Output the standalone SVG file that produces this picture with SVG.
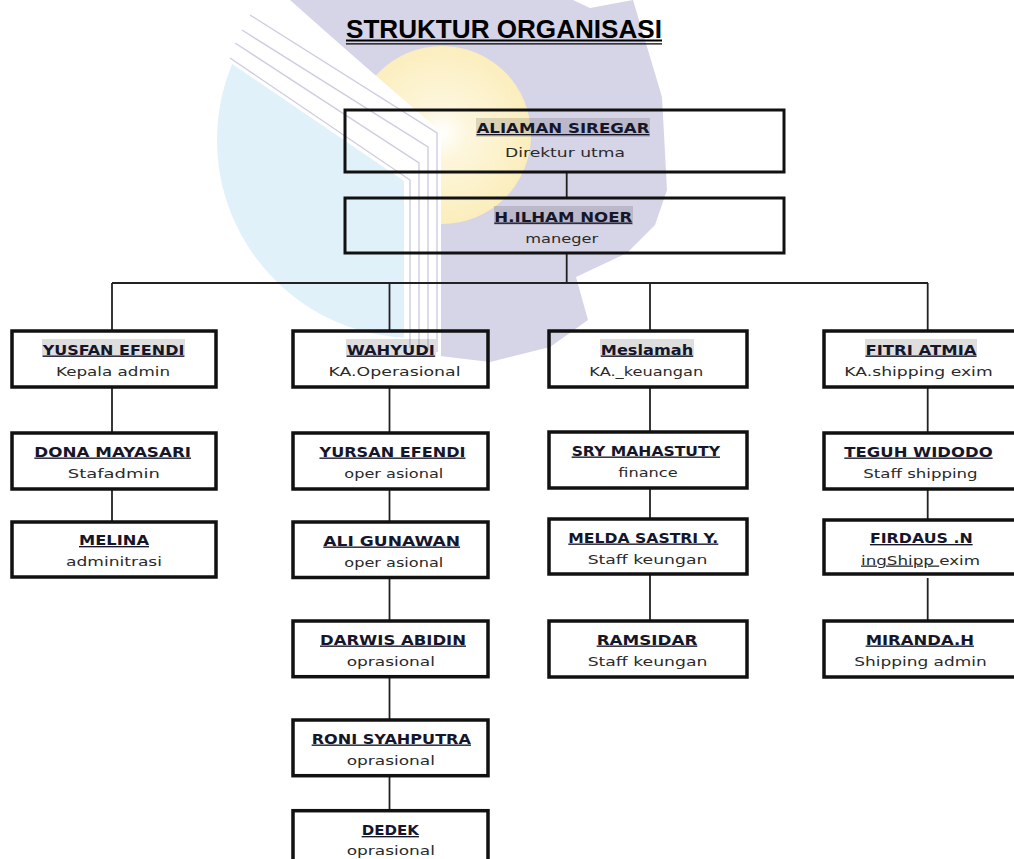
<svg xmlns="http://www.w3.org/2000/svg" width="1014" height="859" viewBox="0 0 1014 859">
<style>
.box{fill:none;stroke:#111;stroke-width:3.5}
.top{fill:none;stroke:#111;stroke-width:3}
.hl{fill:#000;opacity:0.13}
.nm{font-family:"DejaVu Sans","Liberation Sans",sans-serif;font-weight:bold;font-size:13.5px;fill:#16162a;text-anchor:middle;text-decoration:underline}
.rl{font-family:"DejaVu Sans","Liberation Sans",sans-serif;font-size:13px;fill:#2a2a2a;text-anchor:middle}
.ul{text-decoration:underline}
.cn line{stroke:#222;stroke-width:1.8}
.st{fill:none;stroke:#cfcce2;stroke-width:1.4}
</style>
<defs>
<radialGradient id="sun" gradientUnits="userSpaceOnUse" cx="442" cy="133" r="89">
<stop offset="0" stop-color="#ffffff"/>
<stop offset="0.3" stop-color="#fdf6dc"/>
<stop offset="1" stop-color="#fbeebd"/>
</radialGradient>
<clipPath id="blueclip"><polygon points="100,-40 409,178 409,420 100,420"/></clipPath>
</defs>
<rect width="1014" height="859" fill="#fff"/>
<g id="watermark">
<polygon fill="#d6d4e7" points="290,0 573,0 590,8 633,0 662,97 667,190 655,225 627,253 576,277 588,320 550,347 490,362 440,356 440,133"/>
<circle cx="442" cy="135" r="89" fill="url(#sun)"/>
<circle cx="415" cy="140" r="198" fill="#e1f1fa" clip-path="url(#blueclip)"/>
<polygon fill="#fff" points="286,-2 441,132 441,357 404,357 404,181 222,57 235,15"/>
<polyline class="st" points="250,15 437,133 437,352"/>
<polyline class="st" points="242,30 428,147 428,350"/>
<polyline class="st" points="235,43 419,163 419,350"/>
<polyline class="st" points="230,58 410,180 410,348"/>
</g>
<g id="title">
<text x="346" y="37.5" font-family="Liberation Sans, Arial, sans-serif" font-weight="bold" font-size="26" textLength="316" lengthAdjust="spacingAndGlyphs" fill="#000">STRUKTUR ORGANISASI</text>
<line x1="346" y1="40.5" x2="662" y2="40.5" stroke="#000" stroke-width="2"/>
<line x1="346" y1="43.8" x2="662" y2="43.8" stroke="#000" stroke-width="1.2"/>
</g>
<g id="connectors" class="cn">
<line x1="566.7" y1="172" x2="566.7" y2="198"/>
<line x1="566.7" y1="253" x2="566.7" y2="283"/>
<line x1="112" y1="283" x2="928" y2="283"/>
<line x1="112" y1="283" x2="112" y2="331"/>
<line x1="389.5" y1="283" x2="389.5" y2="331"/>
<line x1="650" y1="283" x2="650" y2="331"/>
<line x1="927.7" y1="283" x2="927.7" y2="331"/>
<line x1="112" y1="387" x2="112" y2="433"/>
<line x1="112" y1="489" x2="112" y2="522"/>
<line x1="389.5" y1="387" x2="389.5" y2="433"/>
<line x1="389.5" y1="489" x2="389.5" y2="522"/>
<line x1="389.5" y1="578" x2="389.5" y2="621"/>
<line x1="389.5" y1="677" x2="389.5" y2="720"/>
<line x1="389.5" y1="776" x2="389.5" y2="811"/>
<line x1="650" y1="387" x2="650" y2="432"/>
<line x1="650" y1="488" x2="650" y2="519"/>
<line x1="650" y1="574" x2="650" y2="621"/>
<line x1="927.7" y1="387" x2="927.7" y2="433"/>
<line x1="927.7" y1="489" x2="927.7" y2="520"/>
<line x1="927.7" y1="578" x2="927.7" y2="621"/>
</g>
<g id="n_aliaman">
<rect class="top" x="345" y="110" width="439" height="62"/>
<rect class="hl" x="476" y="118" width="174" height="19"/>
<text class="nm" x="563" y="133" textLength="173" lengthAdjust="spacingAndGlyphs">ALIAMAN SIREGAR</text>
<text class="rl" x="565" y="157" textLength="120" lengthAdjust="spacingAndGlyphs">Direktur utma</text>
</g>
<g id="n_ilham">
<rect class="top" x="345" y="198" width="439" height="55"/>
<rect class="hl" x="494" y="206" width="139" height="19"/>
<text class="nm" x="563.3" y="221.5" textLength="138" lengthAdjust="spacingAndGlyphs">H.ILHAM NOER</text>
<text class="rl" x="561.7" y="242.5" textLength="73" lengthAdjust="spacingAndGlyphs">maneger</text>
</g>
<g id="n_yusfan">
<rect class="box" x="12" y="331" width="204" height="56"/>
<rect class="hl" x="42" y="339" width="143" height="18"/>
<text class="nm" x="113.5" y="354.5" textLength="141.7" lengthAdjust="spacingAndGlyphs">YUSFAN EFENDI</text>
<text class="rl" x="113" y="375.5" textLength="114" lengthAdjust="spacingAndGlyphs">Kepala admin</text>
</g>
<g id="n_dona">
<rect class="box" x="12" y="433" width="204" height="56"/>
<text class="nm" x="112.7" y="456.5" textLength="156.7" lengthAdjust="spacingAndGlyphs">DONA MAYASARI</text>
<text class="rl" x="113.8" y="477.5" textLength="92" lengthAdjust="spacingAndGlyphs">Stafadmin</text>
</g>
<g id="n_melina">
<rect class="box" x="12" y="522" width="204" height="55"/>
<text class="nm" x="114" y="545" textLength="70" lengthAdjust="spacingAndGlyphs">MELINA</text>
<text class="rl" x="114" y="566" textLength="96" lengthAdjust="spacingAndGlyphs">adminitrasi</text>
</g>
<g id="n_wahyudi">
<rect class="box" x="293" y="331" width="195" height="56"/>
<rect class="hl" x="346" y="339" width="90" height="18"/>
<text class="nm" x="390.8" y="354.5" textLength="88.3" lengthAdjust="spacingAndGlyphs">WAHYUDI</text>
<text class="rl" x="394.5" y="375.5" textLength="132" lengthAdjust="spacingAndGlyphs">KA.Operasional</text>
</g>
<g id="n_yursan">
<rect class="box" x="293" y="433" width="195" height="56"/>
<text class="nm" x="392.5" y="456.5" textLength="146" lengthAdjust="spacingAndGlyphs">YURSAN EFENDI</text>
<text class="rl" x="393.8" y="477.5" textLength="99" lengthAdjust="spacingAndGlyphs">oper asional</text>
</g>
<g id="n_ali">
<rect class="box" x="293" y="522" width="195" height="55.5"/>
<text class="nm" x="391.7" y="545.5" textLength="136.7" lengthAdjust="spacingAndGlyphs">ALI GUNAWAN</text>
<text class="rl" x="393.8" y="566.5" textLength="99" lengthAdjust="spacingAndGlyphs">oper asional</text>
</g>
<g id="n_darwis">
<rect class="box" x="293" y="621" width="195" height="55.7"/>
<text class="nm" x="393" y="644.5" textLength="146" lengthAdjust="spacingAndGlyphs">DARWIS ABIDIN</text>
<text class="rl" x="390.8" y="665.5" textLength="88.3" lengthAdjust="spacingAndGlyphs">oprasional</text>
</g>
<g id="n_roni">
<rect class="box" x="293" y="720" width="195" height="55.7"/>
<text class="nm" x="391.3" y="743.5" textLength="159.3" lengthAdjust="spacingAndGlyphs">RONI SYAHPUTRA</text>
<text class="rl" x="390.8" y="764.5" textLength="88.3" lengthAdjust="spacingAndGlyphs">oprasional</text>
</g>
<g id="n_dedek">
<rect class="box" x="293" y="810.7" width="195" height="60"/>
<text class="nm" x="390.3" y="835" textLength="57.3" lengthAdjust="spacingAndGlyphs">DEDEK</text>
<text class="rl" x="390.8" y="855" textLength="88.3" lengthAdjust="spacingAndGlyphs">oprasional</text>
</g>
<g id="n_meslamah">
<rect class="box" x="549" y="331" width="198" height="56"/>
<rect class="hl" x="600" y="339" width="94" height="18"/>
<text class="nm" x="647" y="354.5" textLength="92.3" lengthAdjust="spacingAndGlyphs">Meslamah</text>
<text class="rl" x="646.3" y="375.5" textLength="114" lengthAdjust="spacingAndGlyphs">KA._keuangan</text>
</g>
<g id="n_sry">
<rect class="box" x="549" y="432" width="198" height="56"/>
<text class="nm" x="645.8" y="455.5" textLength="148.3" lengthAdjust="spacingAndGlyphs">SRY MAHASTUTY</text>
<text class="rl" x="648" y="476.5" textLength="59.3" lengthAdjust="spacingAndGlyphs">finance</text>
</g>
<g id="n_melda">
<rect class="box" x="549" y="519" width="198" height="55"/>
<text class="nm" x="643.3" y="542.5" textLength="150" lengthAdjust="spacingAndGlyphs">MELDA SASTRI Y.</text>
<text class="rl" x="647.5" y="564" textLength="119.7" lengthAdjust="spacingAndGlyphs">Staff keungan</text>
</g>
<g id="n_ramsidar">
<rect class="box" x="549" y="621" width="198" height="56"/>
<text class="nm" x="647" y="644.5" textLength="100.7" lengthAdjust="spacingAndGlyphs">RAMSIDAR</text>
<text class="rl" x="647.5" y="665.5" textLength="119.7" lengthAdjust="spacingAndGlyphs">Staff keungan</text>
</g>
<g id="n_fitri">
<rect class="box" x="824" y="331" width="200" height="56"/>
<rect class="hl" x="865" y="339" width="112" height="18"/>
<text class="nm" x="921" y="354.5" textLength="111" lengthAdjust="spacingAndGlyphs">FITRI ATMIA</text>
<text class="rl" x="918.5" y="375.5" textLength="148.3" lengthAdjust="spacingAndGlyphs">KA.shipping exim</text>
</g>
<g id="n_teguh">
<rect class="box" x="824" y="433" width="200" height="56"/>
<text class="nm" x="918.5" y="456.5" textLength="148.3" lengthAdjust="spacingAndGlyphs">TEGUH WIDODO</text>
<text class="rl" x="920.5" y="477.5" textLength="114.3" lengthAdjust="spacingAndGlyphs">Staff shipping</text>
</g>
<g id="n_firdaus">
<rect class="box" x="824" y="520" width="200" height="54"/>
<text class="nm" x="921.3" y="543" textLength="102.7" lengthAdjust="spacingAndGlyphs">FIRDAUS .N</text>
<text class="rl" x="920.5" y="564.5" textLength="119" lengthAdjust="spacingAndGlyphs"><tspan class="ul">ingShipp </tspan>exim</text>
</g>
<g id="n_miranda">
<rect class="box" x="824" y="621" width="200" height="56"/>
<text class="nm" x="919.8" y="644.5" textLength="108.3" lengthAdjust="spacingAndGlyphs">MIRANDA.H</text>
<text class="rl" x="920.5" y="665.5" textLength="132.3" lengthAdjust="spacingAndGlyphs">Shipping admin</text>
</g>
</svg>
